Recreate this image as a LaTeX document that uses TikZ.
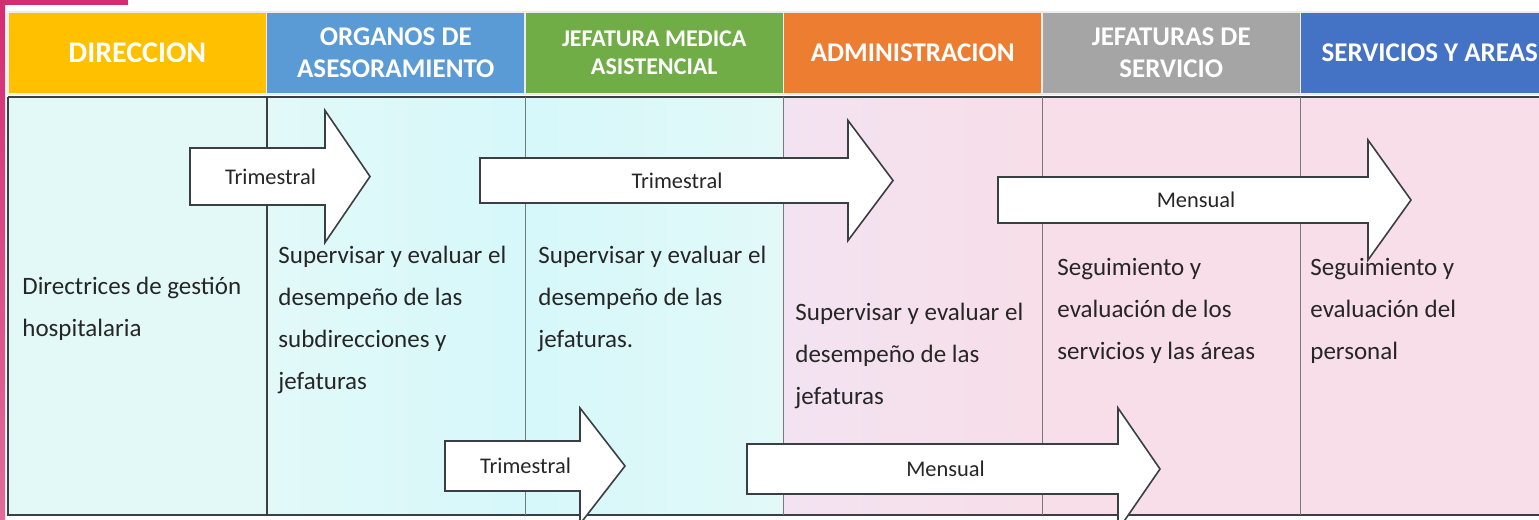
\documentclass[tikz,border=0pt]{standalone}
\usepackage{fontspec}
\setmainfont{Carlito}
\usetikzlibrary{positioning}
\definecolor{cDir}{HTML}{FFC000}
\definecolor{cOrg}{HTML}{5B9BD5}
\definecolor{cJef}{HTML}{70AD47}
\definecolor{cAdm}{HTML}{ED7D31}
\definecolor{cSer}{HTML}{A5A5A5}
\definecolor{cAre}{HTML}{4472C4}
\definecolor{cyanA}{HTML}{E2F9F8}
\definecolor{cyanB}{HTML}{D6F8FA}
\definecolor{rosaA}{HTML}{F3E3F2}
\definecolor{rosaB}{HTML}{F7DEE8}
\definecolor{magenta1}{HTML}{D42C70}
\definecolor{texto}{HTML}{262626}
\definecolor{linea}{HTML}{3A3F44}
\tikzset{
cab/.style={draw=white!85!gray, line width=0.6pt, outer sep=0pt, minimum width=129.25pt, minimum height=41pt, inner sep=0pt, text=white, align=center, font=\fontsize{13.5}{16}\selectfont\bfseries}, % header cells
txt/.style={anchor=west, inner sep=0pt, align=left, text=texto, font=\fontsize{12.5}{21}\selectfont}, % text in the columns
etiq/.style={inner sep=0pt, text=texto, font=\fontsize{11.2}{13}\selectfont}, % text on the block arrows
flechabox/.style={draw=linea, line width=0.8pt, fill=white, line join=miter},
}
% block arrow: name, tail x, head base x, tip x, middle y, half shaft, half head, label
\newcommand{\flecha}[8]{%
  \draw[flechabox] ({#2},{#5-#6}) -- ({#3},{#5-#6}) -- ({#3},{#5-#7}) -- ({#4},{#5})
    -- ({#3},{#5+#7}) -- ({#3},{#5+#6}) -- ({#2},{#5+#6}) -- cycle;
  \node[etiq] (#1) at ({(#2+#3)/2+13},{#5}) {#8};
}

\begin{document}
\begin{tikzpicture}[x=0.5pt, y=-0.5pt]
\useasboundingbox (0,0) rectangle (1539,520);
% background
\fill[white] (0,0) rectangle (1539,520);
\fill[magenta1] (0,0) rectangle (128,5);
\shade[top color=magenta1, bottom color=magenta1!70!white] (0,0) rectangle (5,520);
\fill[cyanA] (8,97) rectangle (266.5,515);
\shade[left color=cyanA, right color=cyanB] (266.5,97) rectangle (525,515);
\shade[left color=cyanB, right color=cyanA] (525,97) rectangle (783.5,515);
\shade[left color=rosaA, right color=rosaB] (783.5,97) rectangle (1042,515);
\fill[rosaB] (1042,97) rectangle (1539,515);

% header
\node[cab, fill=cDir, font=\fontsize{15}{18}\selectfont\bfseries] (dir) at (137.25,53) {DIRECCION};
\node[cab, fill=cOrg, right=0pt of dir] (org) {ORGANOS DE\\ASESORAMIENTO};
\node[cab, fill=cJef, right=0pt of org, font=\fontsize{12}{14}\selectfont\bfseries] (jef) {JEFATURA MEDICA\\ASISTENCIAL};
\node[cab, fill=cAdm, right=0pt of jef] (adm) {ADMINISTRACION};
\node[cab, fill=cSer, right=0pt of adm] (ser) {JEFATURAS DE\\SERVICIO};
\node[cab, fill=cAre, right=0pt of ser] (are) {SERVICIOS Y AREAS};

% grid
\coordinate (bot) at (8,515);
\draw[linea, line width=1.2pt] (8,97) -- (1539,97);
\draw[linea, line width=1pt] (8,97) -- (bot) -- (1539,515);
\draw[linea, line width=1pt] (dir.south east |- 0,97) -- (dir.south east |- bot);
\foreach \c in {org, jef, adm, ser}
  \draw[linea!70, line width=0.5pt] (\c.south east |- 0,97) -- (\c.south east |- bot);

% texts
\node[txt] (t1) at (22,309) {Directrices de gestión\\hospitalaria};
\node[txt] (t2) at (278,320) {Supervisar y evaluar el\\desempeño de las\\subdirecciones y\\jefaturas};
\node[txt] (t3) at (538,299) {Supervisar y evaluar el\\desempeño de las\\jefaturas.};
\node[txt] (t4) at (795,356) {Supervisar y evaluar el\\desempeño de las\\jefaturas};
\node[txt] (t5) at (1057,311) {Seguimiento y\\evaluación de los\\servicios y las áreas};
\node[txt] (t6) at (1310,311) {Seguimiento y\\evaluación del\\personal};

% arrows
\flecha{f1}{190}{325}{370}{176.5}{28.5}{66}{Trimestral}
\flecha{f2}{480}{848}{893}{180.5}{22.5}{60}{Trimestral}
\flecha{f3}{998}{1368}{1411}{200}{23}{60}{Mensual}
\flecha{f4}{445}{580}{625}{466}{25}{58}{Trimestral}
\flecha{f5}{747}{1118}{1160}{469}{25}{61}{Mensual}
\end{tikzpicture}
\end{document}
